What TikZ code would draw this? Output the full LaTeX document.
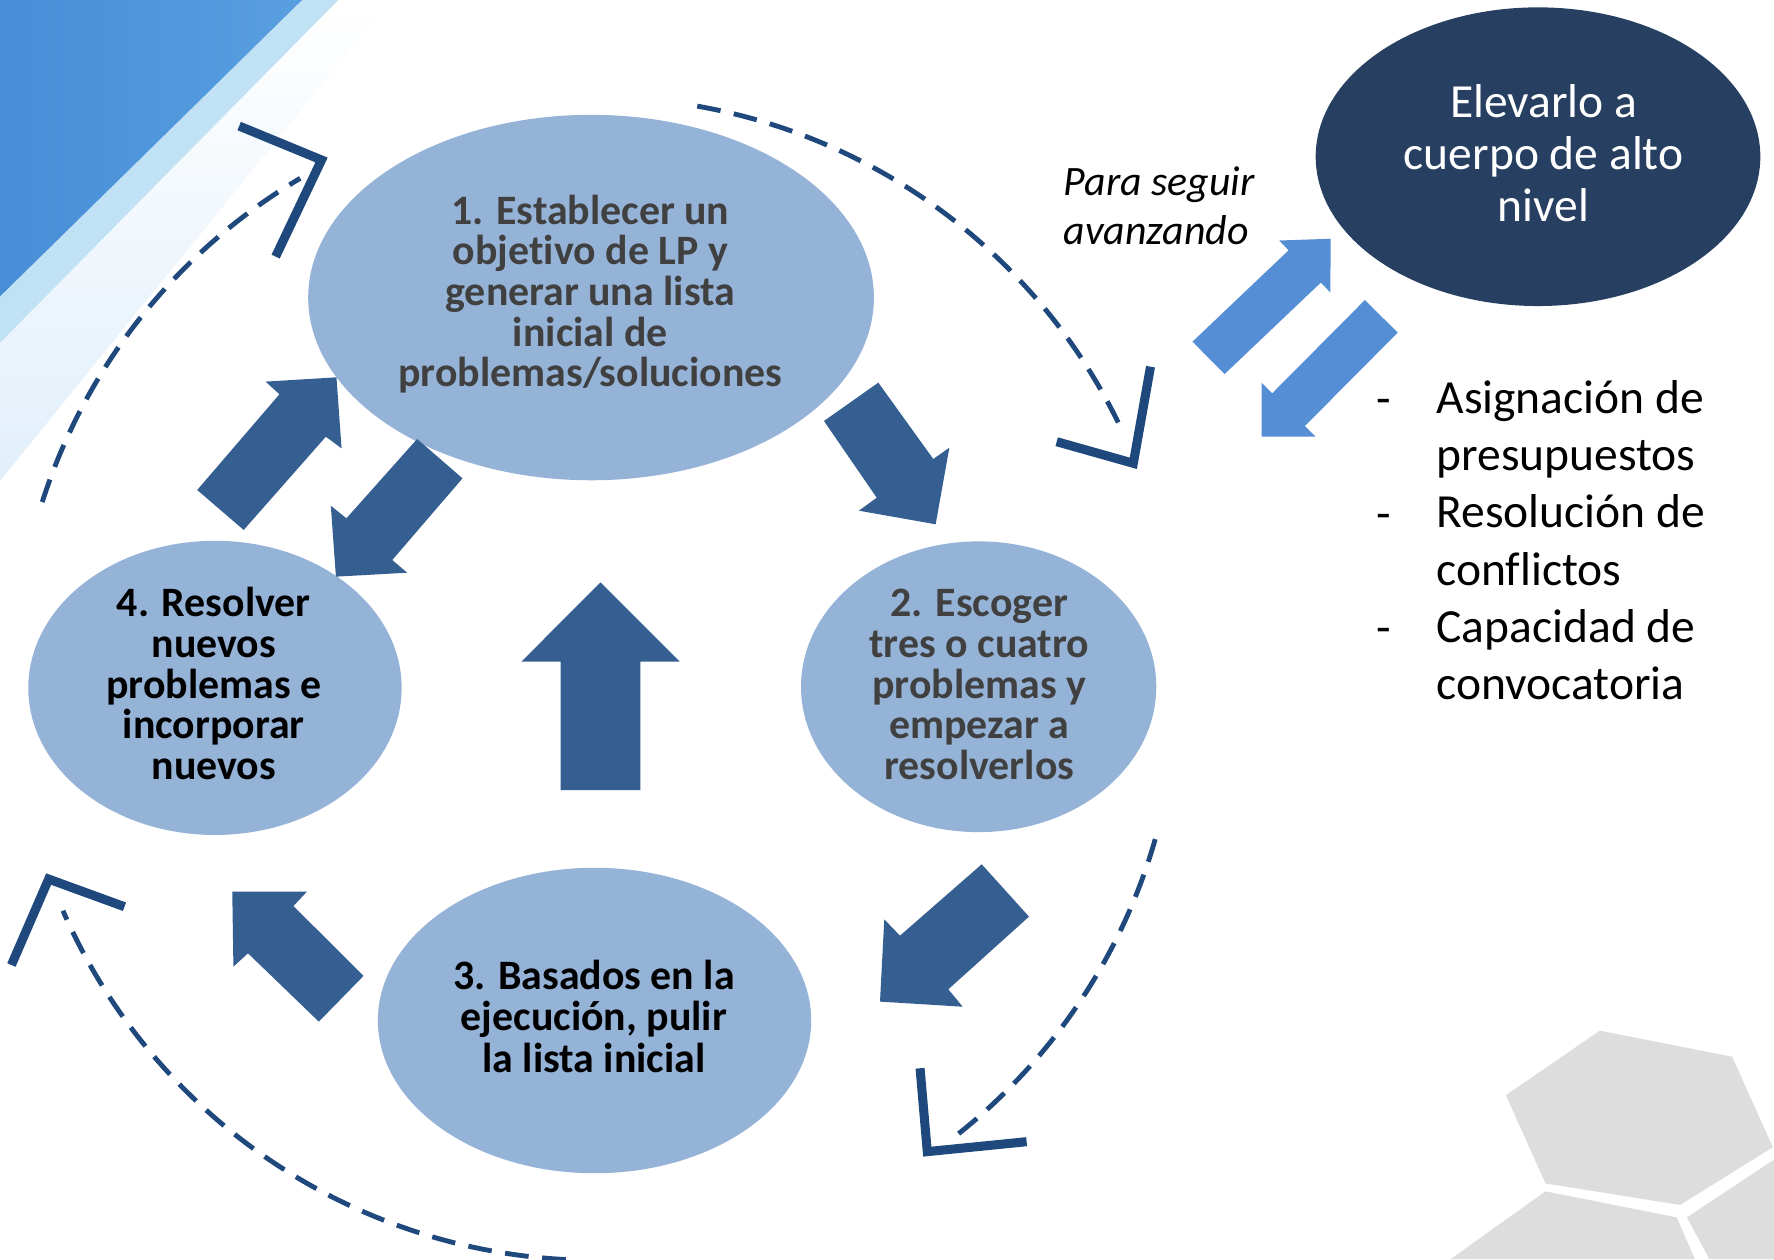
\documentclass[tikz,border=0pt]{standalone}
\usepackage{fontspec}
\setmainfont{Carlito}[Ligatures=NoCommon]
\usetikzlibrary{shapes.geometric}
\definecolor{ellfill}{RGB}{149,179,215}
\definecolor{darkell}{RGB}{39,64,97}
\definecolor{blockblue}{RGB}{54,95,145}
\definecolor{lightblue}{RGB}{85,142,213}
\definecolor{dashcol}{RGB}{31,73,125}
\definecolor{textgray}{RGB}{64,64,64}
\definecolor{hexgray}{RGB}{221,221,221}
\definecolor{bgblueA}{RGB}{72,142,215}
\definecolor{bgblueB}{RGB}{88,158,224}
\definecolor{bandblue}{RGB}{192,226,244}
\definecolor{fadeblue}{RGB}{226,239,250}
\begin{document}
\begin{tikzpicture}[x=1pt,y=-1pt,
  ell/.style={ellipse, fill=ellfill, inner sep=0pt},
  steptxt/.style={align=center, inner sep=0pt, font=\fontsize{37}{35.9}\selectfont\bfseries},
  blk/.style={fill=blockblue},
  lblk/.style={fill=lightblue},
  dasharc/.style={draw=dashcol, line width=4.3pt, dash pattern=on 21pt off 12pt},
  chev/.style={draw=dashcol, line width=8pt, line join=miter, miter limit=20},
  hex/.style={fill=hexgray},
  listtxt/.style={inner sep=0pt, font=\fontsize{42}{50.6}\selectfont}
]
\useasboundingbox (0,0) rectangle (1568,1113);
\fill[white] (0,0) rectangle (1568,1113);

% background decoration top-left
\shade[top color=white, bottom color=fadeblue] (299,0) -- (345,0) -- (0,425) -- (0,303) -- cycle;
\fill[bandblue] (267,0) -- (299,0) -- (0,303) -- (0,262) -- cycle;
\shade[left color=bgblueA, right color=bgblueB] (0,0) -- (267,0) -- (0,262) -- cycle;

% hexagons bottom-right
\fill[hex] (1414,911) -- (1531,934) -- (1567,1014) -- (1485,1065) -- (1366,1046) -- (1331,968) -- cycle;
\fill[hex] (1366,1053) -- (1482,1076) -- (1498,1113) -- (1282,1113) -- cycle;
\fill[hex] (1491,1076) -- (1568,1025) -- (1568,1113) -- (1511,1113) -- cycle;

% ellipses
\node[ell, minimum width=500, minimum height=323] (e1) at (522.4,263) {};
\node[ell, minimum width=314, minimum height=257] (e2) at (865,607) {};
\node[ell, minimum width=383, minimum height=270] (e3) at (525.5,902) {};
\node[ell, minimum width=330, minimum height=260] (e4) at (190,608) {};
\node[ellipse, fill=darkell, inner sep=0pt, minimum width=393, minimum height=264] (e5) at (1359.4,138.5) {};

% texts
\node[steptxt, text=textgray] (t1) at (521.8,260) {1. Establecer un\\objetivo de LP y\\generar una lista\\inicial de\\problemas/soluciones};
\node[steptxt, text=textgray] (t2) at (865.6,605) {2. Escoger\\tres o cuatro\\problemas y\\empezar a\\resolverlos};
\node[steptxt, text=black, font=\fontsize{37}{36.6}\selectfont\bfseries] (t3) at (525,898.2) {3. Basados en la\\ejecución, pulir\\la lista inicial};
\node[steptxt, text=black] (t4) at (189,604.2) {4. Resolver\\nuevos\\problemas e\\incorporar\\nuevos};
\node[align=center, inner sep=0pt, text=white, font=\fontsize{42}{45.7}\selectfont] (t5) at (1364.4,135.5) {Elevarlo a\\cuerpo de alto\\nivel};
\node[align=left, inner sep=0pt, anchor=west, font=\fontsize{37}{43.3}\selectfont\itshape] (t6) at (940,182) {Para seguir\\avanzando};
\node[listtxt, align=left, anchor=west] (list) at (1269.5,477.5) {Asignación de\\presupuestos\\Resolución de\\conflictos\\Capacidad de\\convocatoria};
\node[listtxt, anchor=base west] (d1) at (1216,366.5) {-};
\node[listtxt, anchor=base west] (d2) at (1216,467.7) {-};
\node[listtxt, anchor=base west] (d3) at (1216,568.9) {-};

% dark block arrows
\fill[blk] (174.3,433.1) -- (215.4,468.4) -- (288.0,386.0) -- (301.9,396.3) -- (297.4,333.5) -- (234.7,337.3) -- (247.0,348.5) -- cycle;
\fill[blk] (368.7,388.0) -- (408.8,422.8) -- (346.7,495.0) -- (359.9,506.2) -- (296.9,509.7) -- (292.4,447.0) -- (306.2,458.1) -- cycle;
\fill[blk] (495.6,698.3) -- (565.9,698.3) -- (565.9,584.8) -- (600.8,584.8) -- (530.7,514.7) -- (460.9,584.8) -- (495.6,584.8) -- cycle;
\fill[blk] (728.3,372.1) -- (776.3,338.2) -- (824.9,405.7) -- (839.1,395.7) -- (827.0,463.4) -- (759.2,451.4) -- (774.9,439.9) -- cycle;
\fill[blk] (867.7,763.9) -- (909.5,810.2) -- (838.2,874.4) -- (850.9,889.8) -- (777.8,885.3) -- (781.6,812.6) -- (795.5,827.0) -- cycle;
\fill[blk] (321.3,862.6) -- (281.8,903.0) -- (219.2,842.6) -- (206.3,854.4) -- (205.3,788.1) -- (271.3,788.1) -- (259.4,800.8) -- cycle;

% light block arrows
\fill[lblk] (1054,302) -- (1082.4,330.6) -- (1167.4,249.8) -- (1175.8,258.4) -- (1176.2,211) -- (1130.6,212.6) -- (1139,221.2) -- cycle;
\fill[lblk] (1206.4,265.2) -- (1235.4,294.0) -- (1153.4,376.5) -- (1162.8,385.9) -- (1115.1,386.0) -- (1115.0,338.3) -- (1124.4,347.7) -- cycle;

% dashed cycle arcs
\coordinate (cc) at (527,600);
\path (cc) ++(-80:514) coordinate (a1s);
\path (cc) ++(16:514) coordinate (a2s);
\path (cc) ++(93:514) coordinate (a3s);
\path (cc) ++(197.7:514) coordinate (a4s);
\draw[dasharc] (a1s) arc[start angle=-80, end angle=-25, radius=514];
\draw[dasharc] (a2s) arc[start angle=16, end angle=52, radius=514];
\draw[dasharc] (a3s) arc[start angle=93, end angle=156.5, radius=514];
\draw[dasharc] (a4s) arc[start angle=197.7, end angle=239.4, radius=514];

% chevron heads
\coordinate (h1) at (1001.7,409.5);
\coordinate (h2) at (819.6,1017.9);
\coordinate (h3) at (43,777);
\coordinate (h4) at (284.2,141.4);
\draw[chev] (934,390.4) -- (h1) -- (1016.9,324.1);
\draw[chev] (813.2,944.2) -- (h2) -- (907.4,1009.1);
\draw[chev] (110,801.4) -- (h3) -- (10.1,852.9);
\draw[chev] (211.4,111.4) -- (h4) -- (243.6,226.8);
\end{tikzpicture}
\end{document}
